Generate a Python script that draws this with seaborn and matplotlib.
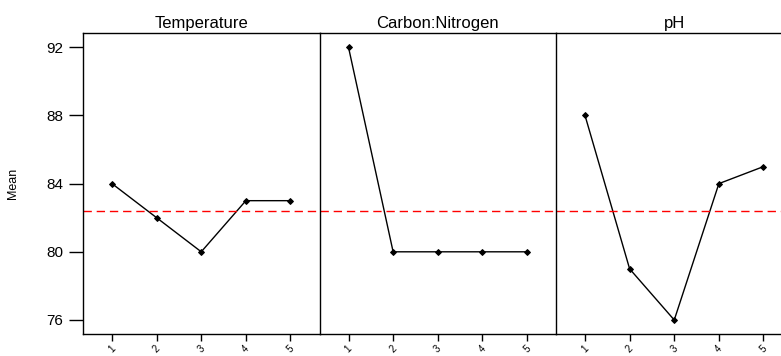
import numpy as np
import pandas as pd
import matplotlib
matplotlib.use("Agg")
import matplotlib.pyplot as plt
import seaborn as sns

factors = ["Temperature", "Carbon:Nitrogen", "pH"]
levels = [1, 2, 3, 4, 5]
temperature = [84, 82, 80, 83, 83]
carbon_nitrogen = [92, 80, 80, 80, 80]
ph = [88, 79, 76, 84, 85]
grand_mean = 82.4
yticks = [76, 80, 84, 88, 92]

sns.set_theme(style="white")
plt.rcParams["font.family"] = ["Liberation Sans", "DejaVu Sans"]
plt.rcParams["text.color"] = "black"
plt.rcParams["axes.labelcolor"] = "black"
plt.rcParams["xtick.color"] = "black"
plt.rcParams["ytick.color"] = "black"

df = pd.DataFrame({
    "factor": np.repeat(factors, len(levels)),
    "level": levels * 3,
    "mean": temperature + carbon_nitrogen + ph,
})

W, H = 781, 356
fig = plt.figure(figsize=(W / 100, H / 100), dpi=100)
left = 83 / W
pw = 236.5 / W
bottom = 21.7 / H
height = 301 / H

for i, f in enumerate(factors):
    ax = fig.add_axes([left + i * pw, bottom, pw, height])
    sub = df[df["factor"] == f]
    sns.lineplot(data=sub, x="level", y="mean", ax=ax, color="black",
                 marker="D", markersize=3, linewidth=1.0, markeredgecolor="black")
    ax.axhline(grand_mean, color="#ff0000", linestyle=(0, (6, 3.5)), linewidth=1.0)
    ax.set_xlim(0.35, 5.65)
    ax.set_ylim(75.16, 92.82)
    ax.set_xticks(levels)
    ax.set_xticklabels([str(l) for l in levels], rotation=45, fontsize=7)
    ax.set_xlabel("")
    ax.set_title(f, fontsize=12, pad=4, color="black")
    for s in ["top", "left", "bottom"]:
        ax.spines[s].set_visible(True)
        ax.spines[s].set_color("black")
        ax.spines[s].set_linewidth(1.0)
    ax.spines["right"].set_visible(False)
    ax.tick_params(axis="x", direction="out", length=5, width=1, color="black",
                   labelcolor="black", pad=1.5, bottom=True)
    ax.set_yticks(yticks)
    if i == 0:
        ax.set_yticklabels([str(t) for t in yticks], fontsize=11)
        ax.tick_params(axis="y", direction="out", length=10, width=1, color="black",
                       labelcolor="black", left=True, pad=4)
        ax.set_ylabel("Mean", fontsize=9, labelpad=20, color="black")
    else:
        ax.tick_params(axis="y", left=False, labelleft=False)
        ax.set_ylabel("")

fig.savefig("out.png", dpi=100)
